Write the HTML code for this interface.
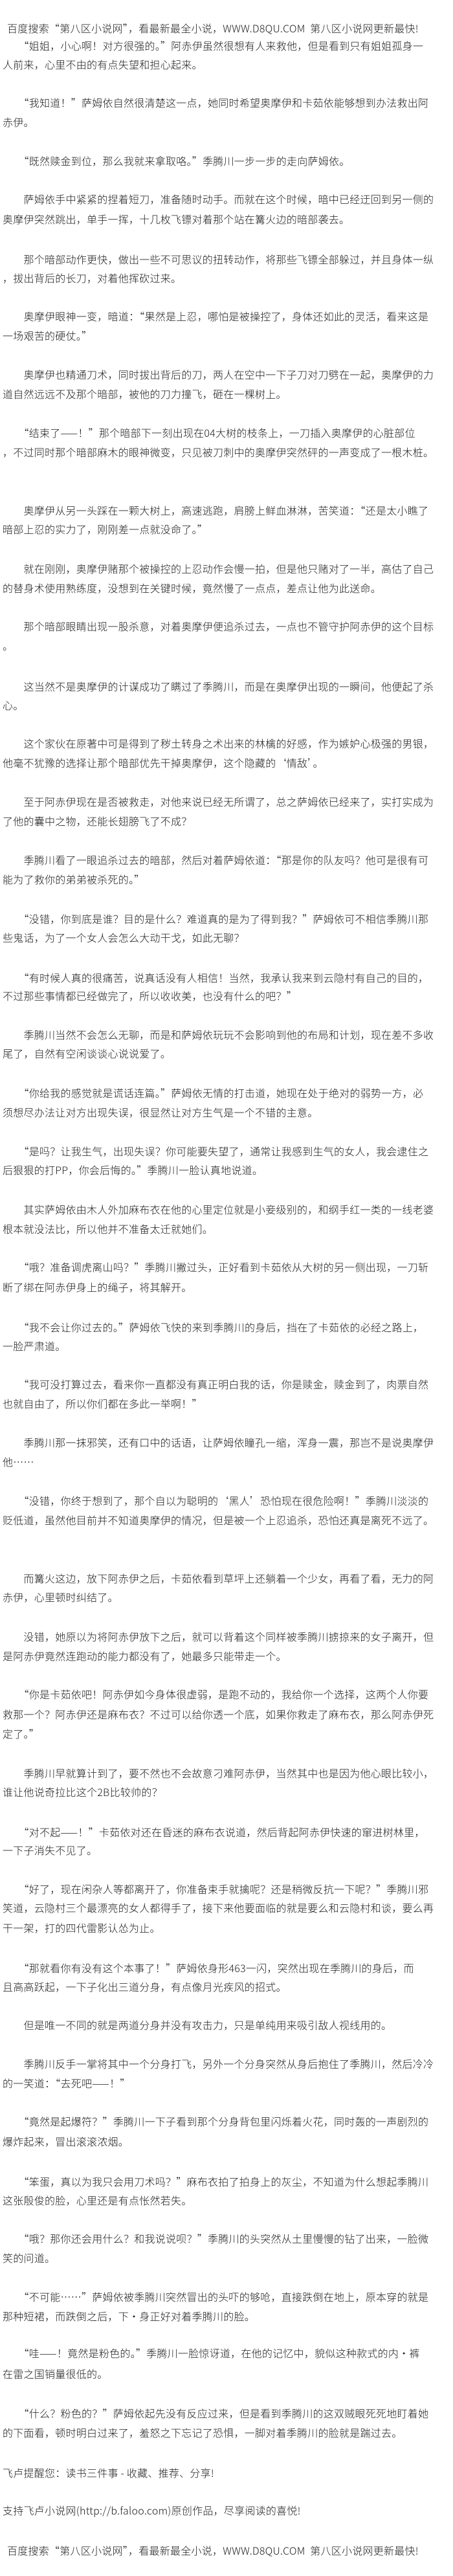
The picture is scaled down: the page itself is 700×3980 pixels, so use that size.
<!DOCTYPE html>
<html><head><meta charset="utf-8">
<style>
html,body{margin:0;padding:0;background:#fff;}
body{width:700px;height:3980px;position:relative;overflow:hidden;
font-family:"Noto Sans CJK SC","WenQuanYi Zen Hei","Liberation Sans",sans-serif;font-size:16px;font-weight:300;color:#1a1a1a;}
.l{position:absolute;left:4px;height:30px;line-height:30px;white-space:nowrap;letter-spacing:0.25px;}
.h{left:11px;}
</style></head><body>
<div class="l h" style="top:28px">百度搜索“第八区小说网”，看最新最全小说，WWW.D8QU.COM&nbsp;&nbsp;第八区小说网更新最快!</div>
<div class="l" style="top:55px">　　“姐姐，小心啊！对方很强的。”阿赤伊虽然很想有人来救他，但是看到只有姐姐孤身一</div>
<div class="l" style="top:84px">人前来，心里不由的有点失望和担心起来。</div>
<div class="l" style="top:143px">　　“我知道！”萨姆依自然很清楚这一点，她同时希望奥摩伊和卡茹依能够想到办法救出阿</div>
<div class="l" style="top:173px">赤伊。</div>
<div class="l" style="top:233px">　　“既然赎金到位，那么我就来拿取咯。”季腾川一步一步的走向萨姆依。</div>
<div class="l" style="top:292px">　　萨姆依手中紧紧的捏着短刀，准备随时动手。而就在这个时候，暗中已经迂回到另一侧的</div>
<div class="l" style="top:323px">奥摩伊突然跳出，单手一挥，十几枚飞镖对着那个站在篝火边的暗部袭去。</div>
<div class="l" style="top:385px">　　那个暗部动作更快，做出一些不可思议的扭转动作，将那些飞镖全部躲过，并且身体一纵</div>
<div class="l" style="top:414px">，拔出背后的长刀，对着他挥砍过来。</div>
<div class="l" style="top:473px">　　奥摩伊眼神一变，暗道：“果然是上忍，哪怕是被操控了，身体还如此的灵活，看来这是</div>
<div class="l" style="top:503px">一场艰苦的硬仗。”</div>
<div class="l" style="top:563px">　　奥摩伊也精通刀术，同时拔出背后的刀，两人在空中一下子刀对刀劈在一起，奥摩伊的力</div>
<div class="l" style="top:593px">道自然远远不及那个暗部，被他的刀力撞飞，砸在一棵树上。</div>
<div class="l" style="top:653px">　　“结束了——！”那个暗部下一刻出现在04大树的枝条上，一刀插入奥摩伊的心脏部位</div>
<div class="l" style="top:683px">，不过同时那个暗部麻木的眼神微变，只见被刀刺中的奥摩伊突然砰的一声变成了一根木桩。</div>
<div class="l" style="top:773px">　　奥摩伊从另一头踩在一颗大树上，高速逃跑，肩膀上鲜血淋淋，苦笑道：“还是太小瞧了</div>
<div class="l" style="top:802px">暗部上忍的实力了，刚刚差一点就没命了。”</div>
<div class="l" style="top:863px">　　就在刚刚，奥摩伊赌那个被操控的上忍动作会慢一拍，但是他只赌对了一半，高估了自己</div>
<div class="l" style="top:893px">的替身术使用熟练度，没想到在关键时候，竟然慢了一点点，差点让他为此送命。</div>
<div class="l" style="top:952px">　　那个暗部眼睛出现一股杀意，对着奥摩伊便追杀过去，一点也不管守护阿赤伊的这个目标</div>
<div class="l" style="top:982px">。</div>
<div class="l" style="top:1045px">　　这当然不是奥摩伊的计谋成功了瞒过了季腾川，而是在奥摩伊出现的一瞬间，他便起了杀</div>
<div class="l" style="top:1074px">心。</div>
<div class="l" style="top:1133px">　　这个家伙在原著中可是得到了秽土转身之术出来的林檎的好感，作为嫉妒心极强的男银，</div>
<div class="l" style="top:1163px">他毫不犹豫的选择让那个暗部优先干掉奥摩伊，这个隐藏的‘情敌’。</div>
<div class="l" style="top:1223px">　　至于阿赤伊现在是否被救走，对他来说已经无所谓了，总之萨姆依已经来了，实打实成为</div>
<div class="l" style="top:1253px">了他的囊中之物，还能长翅膀飞了不成？</div>
<div class="l" style="top:1313px">　　季腾川看了一眼追杀过去的暗部，然后对着萨姆依道：“那是你的队友吗？他可是很有可</div>
<div class="l" style="top:1343px">能为了救你的弟弟被杀死的。”</div>
<div class="l" style="top:1404px">　　“没错，你到底是谁？目的是什么？难道真的是为了得到我？”萨姆依可不相信季腾川那</div>
<div class="l" style="top:1433px">些鬼话，为了一个女人会怎么大动干戈，如此无聊？</div>
<div class="l" style="top:1495px">　　“有时候人真的很痛苦，说真话没有人相信！当然，我承认我来到云隐村有自己的目的，</div>
<div class="l" style="top:1523px">不过那些事情都已经做完了，所以收收美，也没有什么的吧？”</div>
<div class="l" style="top:1583px">　　季腾川当然不会怎么无聊，而是和萨姆依玩玩不会影响到他的布局和计划，现在差不多收</div>
<div class="l" style="top:1612px">尾了，自然有空闲谈谈心说说爱了。</div>
<div class="l" style="top:1673px">　　“你给我的感觉就是谎话连篇。”萨姆依无情的打击道，她现在处于绝对的弱势一方，必</div>
<div class="l" style="top:1703px">须想尽办法让对方出现失误，很显然让对方生气是一个不错的主意。</div>
<div class="l" style="top:1763px">　　“是吗？让我生气，出现失误？你可能要失望了，通常让我感到生气的女人，我会逮住之</div>
<div class="l" style="top:1792px">后狠狠的打PP，你会后悔的。”季腾川一脸认真地说道。</div>
<div class="l" style="top:1853px">　　其实萨姆依由木人外加麻布衣在他的心里定位就是小妾级别的，和纲手红一类的一线老婆</div>
<div class="l" style="top:1883px">根本就没法比，所以他并不准备太迁就她们。</div>
<div class="l" style="top:1942px">　　“哦？准备调虎离山吗？”季腾川撇过头，正好看到卡茹依从大树的另一侧出现，一刀斩</div>
<div class="l" style="top:1973px">断了绑在阿赤伊身上的绳子，将其解开。</div>
<div class="l" style="top:2035px">　　“我不会让你过去的。”萨姆依飞快的来到季腾川的身后，挡在了卡茹依的必经之路上，</div>
<div class="l" style="top:2064px">一脸严肃道。</div>
<div class="l" style="top:2123px">　　“我可没打算过去，看来你一直都没有真正明白我的话，你是赎金，赎金到了，肉票自然</div>
<div class="l" style="top:2153px">也就自由了，所以你们都在多此一举啊！”</div>
<div class="l" style="top:2213px">　　季腾川那一抹邪笑，还有口中的话语，让萨姆依瞳孔一缩，浑身一震，那岂不是说奥摩伊</div>
<div class="l" style="top:2243px">他……</div>
<div class="l" style="top:2303px">　　“没错，你终于想到了，那个自以为聪明的‘黑人’恐怕现在很危险啊！”季腾川淡淡的</div>
<div class="l" style="top:2333px">贬低道，虽然他目前并不知道奥摩伊的情况，但是被一个上忍追杀，恐怕还真是离死不远了。</div>
<div class="l" style="top:2423px">　　而篝火这边，放下阿赤伊之后，卡茹依看到草坪上还躺着一个少女，再看了看，无力的阿</div>
<div class="l" style="top:2452px">赤伊，心里顿时纠结了。</div>
<div class="l" style="top:2513px">　　没错，她原以为将阿赤伊放下之后，就可以背着这个同样被季腾川掳掠来的女子离开，但</div>
<div class="l" style="top:2543px">是阿赤伊竟然连跑动的能力都没有了，她最多只能带走一个。</div>
<div class="l" style="top:2602px">　　“你是卡茹依吧！阿赤伊如今身体很虚弱，是跑不动的，我给你一个选择，这两个人你要</div>
<div class="l" style="top:2633px">救那一个？阿赤伊还是麻布衣？不过可以给你透一个底，如果你救走了麻布衣，那么阿赤伊死</div>
<div class="l" style="top:2663px">定了。”</div>
<div class="l" style="top:2724px">　　季腾川早就算计到了，要不然也不会故意刁难阿赤伊，当然其中也是因为他心眼比较小，</div>
<div class="l" style="top:2753px">谁让他说奇拉比这个2B比较帅的？</div>
<div class="l" style="top:2815px">　　“对不起——！”卡茹依对还在昏迷的麻布衣说道，然后背起阿赤伊快速的窜进树林里，</div>
<div class="l" style="top:2843px">一下子消失不见了。</div>
<div class="l" style="top:2903px">　　“好了，现在闲杂人等都离开了，你准备束手就擒呢？还是稍微反抗一下呢？”季腾川邪</div>
<div class="l" style="top:2932px">笑道，云隐村三个最漂亮的女人都得手了，接下来他要面临的就是要么和云隐村和谈，要么再</div>
<div class="l" style="top:2963px">干一架，打的四代雷影认怂为止。</div>
<div class="l" style="top:3025px">　　“那就看你有没有这个本事了！”萨姆依身形463一闪，突然出现在季腾川的身后，而</div>
<div class="l" style="top:3054px">且高高跃起，一下子化出三道分身，有点像月光疾风的招式。</div>
<div class="l" style="top:3113px">　　但是唯一不同的就是两道分身并没有攻击力，只是单纯用来吸引敌人视线用的。</div>
<div class="l" style="top:3173px">　　季腾川反手一掌将其中一个分身打飞，另外一个分身突然从身后抱住了季腾川，然后冷冷</div>
<div class="l" style="top:3203px">的一笑道：“去死吧——！”</div>
<div class="l" style="top:3262px">　　“竟然是起爆符？”季腾川一下子看到那个分身背包里闪烁着火花，同时轰的一声剧烈的</div>
<div class="l" style="top:3293px">爆炸起来，冒出滚滚浓烟。</div>
<div class="l" style="top:3355px">　　“笨蛋，真以为我只会用刀术吗？”麻布衣拍了拍身上的灰尘，不知道为什么想起季腾川</div>
<div class="l" style="top:3384px">这张殷俊的脸，心里还是有点怅然若失。</div>
<div class="l" style="top:3443px">　　“哦？那你还会用什么？和我说说呗？”季腾川的头突然从土里慢慢的钻了出来，一脸微</div>
<div class="l" style="top:3473px">笑的问道。</div>
<div class="l" style="top:3533px">　　“不可能……”萨姆依被季腾川突然冒出的头吓的够呛，直接跌倒在地上，原本穿的就是</div>
<div class="l" style="top:3563px">那种短裙，而跌倒之后，下·身正好对着季腾川的脸。</div>
<div class="l" style="top:3620px">　　“哇——！竟然是粉色的。”季腾川一脸惊讶道，在他的记忆中，貌似这种款式的内·裤</div>
<div class="l" style="top:3652px">在雷之国销量很低的。</div>
<div class="l" style="top:3713px">　　“什么？粉色的？”萨姆依起先没有反应过来，但是看到季腾川的这双贼眼死死地盯着她</div>
<div class="l" style="top:3743px">的下面看，顿时明白过来了，羞怒之下忘记了恐惧，一脚对着季腾川的脸就是踹过去。</div>
<div class="l" style="top:3805px">飞卢提醒您：读书三件事 - 收藏、推荐、分享!</div>
<div class="l" style="top:3863px">支持飞卢小说网(http://b.faloo.com)原创作品，尽享阅读的喜悦!</div>
<div class="l h" style="top:3925px">百度搜索“第八区小说网”，看最新最全小说，WWW.D8QU.COM&nbsp;&nbsp;第八区小说网更新最快!</div>
</body></html>
